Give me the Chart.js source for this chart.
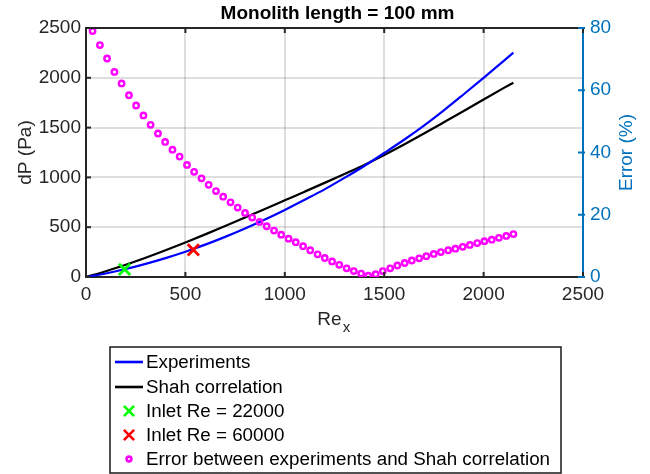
<!DOCTYPE html>
<html><head><meta charset="utf-8">
<script src="https://cdn.jsdelivr.net/npm/chart.js@4/dist/chart.umd.min.js"></script>
<style>html,body{margin:0;padding:0;background:#fff}#wrap{width:650px;height:474px;position:relative}</style>
</head><body><div id="wrap"><canvas id="c" width="650" height="474"></canvas></div>
<script>
// ---- data ----
const titleText = 'Monolith length = 100 mm';
const curveRe = [0,100,200,300,400,500,600,700,800,900,1000,1100,1200,1300,1400,1500,1600,1700,1800,1900,2000,2100,2150];
const dpExperiments = [0,35,80,132,190,254,325,403,487,577,673,775,880,995,1115,1245,1378,1520,1673,1835,2000,2168,2252];
const dpShah = [0,58,123,193,268,346,428,512,597,683,770,857,945,1035,1125,1225,1330,1440,1553,1667,1782,1896,1951];
const inletLabels = ['Inlet Re = 22000','Inlet Re = 60000'];
const inletRe = [194, 540];
const inletDp = [77, 272];
const errRe = [33,70,106,143,179,216,252,289,325,362,398,435,471,508,544,581,617,654,690,727,763,800,836,873,909,946,982,1019,1055,1092,1128,1165,1201,1238,1274,1311,1347,1384,1420,1457,1493,1530,1566,1603,1639,1676,1712,1749,1785,1822,1858,1895,1931,1968,2004,2041,2077,2114,2150];
const errPct = [79.0,74.5,70.2,65.9,62.2,58.4,55.1,51.9,48.9,46.1,43.4,40.9,38.7,36.0,33.8,31.7,29.6,27.6,25.8,24.0,22.3,20.6,19.1,17.7,16.3,14.9,13.6,12.3,11.2,9.9,8.6,7.3,6.1,5.0,3.9,2.8,1.9,1.1,0.4,0.9,1.9,2.8,3.7,4.5,5.3,6.0,6.7,7.4,8.0,8.6,9.1,9.7,10.3,10.9,11.5,12.0,12.6,13.2,13.8];
const xTicks = [0,500,1000,1500,2000,2500];
const yTicks = [0,500,1000,1500,2000,2500];
const y2Ticks = [0,20,40,60,80];
const yTitle = 'dP (Pa)';
const y2Title = 'Error (%)';

// ---- styling ----
const FONT = "'Liberation Sans', Arial, Helvetica, sans-serif";
const FS = 19;
const AXC = '#262626';
const BLUEAX = '#0072BD';
const GRID = 'rgba(0,0,0,0.13)';

const pts = (xs, ys) => xs.map((x, i) => ({x: x, y: ys[i]}));

const datasets = [
  {label:'Experiments', data:pts(curveRe, dpExperiments), borderColor:'#0000ff', borderWidth:2.2, pointRadius:0, yAxisID:'y', cubicInterpolationMode:'monotone', order:3, legendKind:'line'},
  {label:'Shah correlation', data:pts(curveRe, dpShah), borderColor:'#000000', borderWidth:2.2, pointRadius:0, yAxisID:'y', cubicInterpolationMode:'monotone', order:4, legendKind:'line'},
  {label:inletLabels[0], data:[{x:inletRe[0], y:inletDp[0]}], showLine:false, pointStyle:'crossRot', pointRadius:8, borderWidth:2.8, borderColor:'#00ff00', backgroundColor:'#00ff00', yAxisID:'y', order:1, legendKind:'point'},
  {label:inletLabels[1], data:[{x:inletRe[1], y:inletDp[1]}], showLine:false, pointStyle:'crossRot', pointRadius:8, borderWidth:2.8, borderColor:'#ff0000', backgroundColor:'#ff0000', yAxisID:'y', order:1, legendKind:'point'},
  {label:'Error between experiments and Shah correlation', data:pts(errRe, errPct), showLine:false, pointStyle:'circle', pointRadius:2.7, borderWidth:2.4, borderColor:'#ff00ff', backgroundColor:'rgba(0,0,0,0)', yAxisID:'y2', order:2, legendKind:'point'}
];

const deco = {
  id:'deco',
  afterDraw(chart){
    const ctx = chart.ctx, a = chart.chartArea;
    const xs = chart.scales.x, ys = chart.scales.y, y2 = chart.scales.y2;
    ctx.save();
    // top box line
    ctx.strokeStyle = AXC; ctx.lineWidth = 2;
    ctx.beginPath(); ctx.moveTo(a.left - 1, a.top); ctx.lineTo(a.right, a.top); ctx.stroke();
    // inward ticks
    xTicks.forEach(v => { const px = xs.getPixelForValue(v);
      ctx.beginPath(); ctx.moveTo(px, a.bottom); ctx.lineTo(px, a.bottom - 5); ctx.stroke();
      ctx.beginPath(); ctx.moveTo(px, a.top); ctx.lineTo(px, a.top + 5); ctx.stroke(); });
    yTicks.forEach(v => { const py = ys.getPixelForValue(v);
      ctx.beginPath(); ctx.moveTo(a.left, py); ctx.lineTo(a.left + 5, py); ctx.stroke(); });
    ctx.strokeStyle = BLUEAX;
    y2Ticks.forEach(v => { const py = y2.getPixelForValue(v);
      ctx.beginPath(); ctx.moveTo(a.right + 2, py); ctx.lineTo(a.right - 5, py); ctx.stroke(); });
    // title
    ctx.fillStyle = '#000'; ctx.font = 'bold ' + FS + 'px ' + FONT;
    ctx.textAlign = 'center'; ctx.textBaseline = 'middle';
    ctx.fillText(titleText, (a.left + a.right) / 2 + 3, 14);
    // y titles (both read bottom-to-top)
    ctx.font = FS + 'px ' + FONT;
    const midY = (a.top + a.bottom) / 2;
    ctx.save(); ctx.translate(26, midY); ctx.rotate(-Math.PI / 2);
    ctx.fillStyle = AXC; ctx.fillText(yTitle, 0, 0); ctx.restore();
    ctx.save(); ctx.translate(627, midY); ctx.rotate(-Math.PI / 2);
    ctx.fillStyle = BLUEAX; ctx.fillText(y2Title, 0, 0); ctx.restore();
    // x label Re with subscript x
    ctx.fillStyle = AXC; ctx.font = FS + 'px ' + FONT;
    ctx.textAlign = 'left'; ctx.textBaseline = 'alphabetic';
    const reW = ctx.measureText('Re').width;
    const cx = (a.left + a.right) / 2 - 2;
    ctx.fillText('Re', cx - reW / 2 - 3, 325);
    ctx.font = (FS - 4) + 'px ' + FONT;
    ctx.fillText('x', cx + reW / 2 - 2, 332);
    // legend box
    const L = {x:110, y:347, w:451, h:126};
    ctx.fillStyle = '#fff'; ctx.fillRect(L.x, L.y, L.w, L.h);
    ctx.strokeStyle = AXC; ctx.lineWidth = 1.6; ctx.strokeRect(L.x, L.y, L.w, L.h);
    const rowY = [362, 387, 411, 435, 459];
    chart.data.datasets.forEach((ds, i) => {
      const yy = rowY[i];
      if (ds.legendKind === 'line') {
        ctx.strokeStyle = ds.borderColor; ctx.lineWidth = 2.6;
        ctx.beginPath(); ctx.moveTo(115, yy); ctx.lineTo(143, yy); ctx.stroke();
      } else {
        ctx.strokeStyle = ds.borderColor; ctx.fillStyle = ds.backgroundColor;
        Chart.helpers.drawPoint(ctx, {pointStyle: ds.pointStyle, radius: ds.pointStyle === 'circle' ? 2.4 : 7.2, borderWidth: ds.borderWidth, rotation: 0}, 129, yy);
      }
      ctx.fillStyle = '#000'; ctx.font = (FS - 0.2) + 'px ' + FONT;
      ctx.textAlign = 'left'; ctx.textBaseline = 'middle';
      ctx.fillText(ds.label, 146, yy + 1);
    });
    ctx.restore();
  }
};

const plain = v => String(v);

new Chart(document.getElementById('c'), {
  type:'line',
  data:{datasets},
  options:{
    responsive:false, animation:false, devicePixelRatio:1,
    layout:{padding:{top:28, left:0, right:0, bottom:0}},
    plugins:{legend:{display:false}, title:{display:false}, tooltip:{enabled:false}},
    elements:{line:{tension:0}},
    scales:{
      x:{type:'linear', position:'bottom', min:0, max:2500,
        afterBuildTicks: s => { s.ticks = xTicks.map(v => ({value:v})); },
        afterFit: s => { s.height = 197; },
        ticks:{color:AXC, font:{family:FONT, size:FS}, padding:6, maxRotation:0, callback:plain},
        grid:{color:GRID, lineWidth:2, drawTicks:false},
        border:{color:AXC, width:2}},
      y:{type:'linear', position:'left', min:0, max:2500,
        afterBuildTicks: s => { s.ticks = yTicks.map(v => ({value:v})); },
        afterFit: s => { s.width = 86; },
        ticks:{color:AXC, font:{family:FONT, size:FS}, padding:5, callback:plain},
        grid:{color:GRID, lineWidth:2, drawTicks:false},
        border:{color:AXC, width:2}},
      y2:{type:'linear', position:'right', min:0, max:80,
        afterBuildTicks: s => { s.ticks = y2Ticks.map(v => ({value:v})); },
        afterFit: s => { s.width = 67; },
        ticks:{color:BLUEAX, font:{family:FONT, size:FS}, padding:7, callback:plain},
        grid:{display:false, drawTicks:false},
        border:{color:BLUEAX, width:2}}
    }
  },
  plugins:[deco]
});
</script></body></html>
